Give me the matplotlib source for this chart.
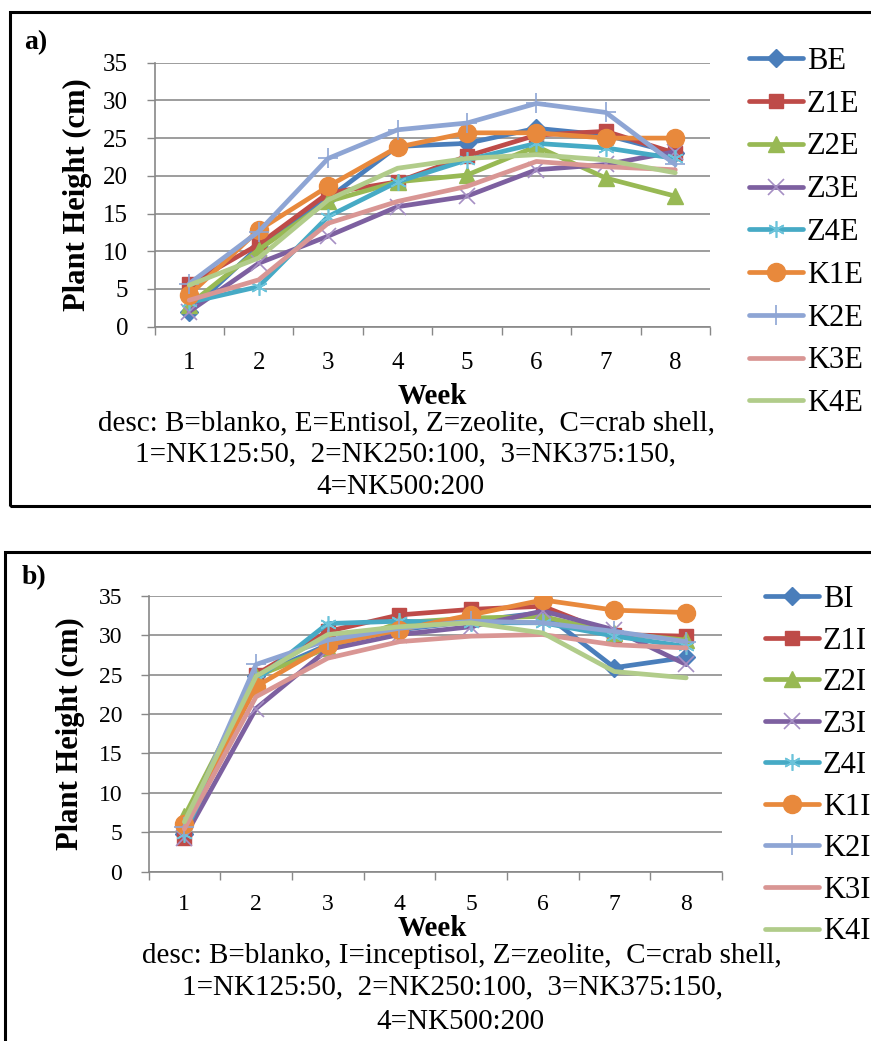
import matplotlib
matplotlib.use("Agg")
import matplotlib.pyplot as plt
from matplotlib.patches import Rectangle

plt.rcParams['font.family'] = ['Liberation Serif', 'DejaVu Serif']

weeks = [1, 2, 3, 4, 5, 6, 7, 8]
week_labels = ['1', '2', '3', '4', '5', '6', '7', '8']

# Panel a (Entisol)
names_a = ['BE', 'Z1E', 'Z2E', 'Z3E', 'Z4E', 'K1E', 'K2E', 'K3E', 'K4E']
BE = [2.0, 10.6, 17.0, 23.9, 24.3, 26.3, 25.4, 23.0]
Z1E = [5.6, 10.9, 17.7, 19.2, 22.6, 25.4, 25.9, 23.0]
Z2E = [2.9, 10.2, 16.6, 19.2, 20.1, 23.9, 19.7, 17.3]
Z3E = [2.0, 8.4, 12.0, 15.9, 17.3, 20.8, 21.5, 23.2]
Z4E = [3.2, 5.3, 14.6, 19.2, 22.1, 24.3, 23.7, 22.3]
K1E = [4.2, 12.8, 18.6, 23.8, 25.7, 25.7, 25.0, 25.0]
K2E = [5.7, 12.6, 22.3, 26.1, 27.0, 29.6, 28.4, 21.5]
K3E = [3.5, 6.2, 13.7, 16.6, 18.6, 21.9, 21.2, 20.8]
K4E = [5.5, 9.1, 16.8, 21.0, 22.3, 22.8, 22.1, 20.4]
series_a = [BE, Z1E, Z2E, Z3E, Z4E, K1E, K2E, K3E, K4E]

# Panel b (Inceptisol)
names_b = ['BI', 'Z1I', 'Z2I', 'Z3I', 'Z4I', 'K1I', 'K2I', 'K3I', 'K4I']
BI = [4.8, 24.8, 28.8, 30.7, 31.8, 32.9, 25.9, 27.2]
Z1I = [4.3, 25.0, 30.5, 32.6, 33.3, 33.7, 30.1, 29.9]
Z2I = [7.0, 24.8, 28.4, 31.6, 32.2, 32.4, 30.3, 29.4]
Z3I = [4.3, 20.7, 28.2, 30.1, 31.1, 33.1, 30.7, 26.3]
Z4I = [4.8, 24.3, 31.5, 31.8, 31.6, 31.6, 29.9, 28.6]
K1I = [6.0, 23.5, 28.8, 30.7, 32.6, 34.5, 33.2, 32.9]
K2I = [5.6, 26.3, 29.4, 30.9, 31.8, 31.6, 30.5, 29.2]
K3I = [5.4, 22.2, 27.1, 29.2, 29.9, 30.1, 28.8, 28.4]
K4I = [6.3, 24.8, 30.1, 31.1, 31.6, 30.3, 25.4, 24.6]
series_b = [BI, Z1I, Z2I, Z3I, Z4I, K1I, K2I, K3I, K4I]

colors = ['#4A7EBB', '#BE4B48', '#98B954', '#7D60A0', '#46AAC5',
          '#E8893C', '#8EA5D4', '#D99694', '#B1CC8A']
marker_edge = ['#4A7EBB', '#BE4B48', '#98B954', '#A58FC4', '#6CC3DA',
               '#E8893C', '#8EA5D4', '#D99694', '#B1CC8A']
markers = ['D', 's', '^', 'x', (6, 2, 0), 'o', '+', None, None]
msizes = [9, 10, 11, 11, 12, 13, 15, 0, 0]
mews = [1, 1, 1, 1.2, 1.2, 1, 1.2, 0, 0]

W, H = 871, 1041
fig = plt.figure(figsize=(W / 100, H / 100), dpi=100)


def fx(px):
    return px / W


def fy(py):
    return 1 - py / H


# panel boxes
fig.patches.append(Rectangle((fx(10), fy(506)), fx(880 - 10), (506 - 12.5) / H,
                             transform=fig.transFigure, fill=False,
                             edgecolor='black', linewidth=2.2, clip_on=False))
fig.patches.append(Rectangle((fx(4.5), fy(1060)), fx(880 - 4.5), (1060 - 552) / H,
                             transform=fig.transFigure, fill=False,
                             edgecolor='black', linewidth=2.2, clip_on=False))


def make_panel(left, right, top, bottom, names, series, letter, letter_xy,
               desc_lines, week_y, desc_ys, desc_xs, leg_x, leg_y, leg_sp,
               ylab_pad, tick_fs, xpad):
    ax = fig.add_axes([fx(left), fy(bottom), fx(right - left), (bottom - top) / H])
    for i, (nm, vals) in enumerate(zip(names, series)):
        ax.plot(weeks, vals, color=colors[i], linewidth=3.4,
                marker=markers[i] if markers[i] is not None else None,
                markersize=msizes[i], markerfacecolor=colors[i],
                markeredgecolor=marker_edge[i], markeredgewidth=mews[i],
                label=nm, solid_capstyle='round', solid_joinstyle='round')
    ax.set_xlim(0.5, 8.5)
    ax.set_ylim(0, 35)
    ax.set_yticks(range(0, 36, 5))
    ax.set_xticks([x + 0.5 for x in range(0, 9)])
    ax.set_xticklabels([])
    ax.set_xticks(weeks, minor=True)
    ax.set_xticklabels(week_labels, minor=True)
    ax.tick_params(axis='x', which='minor', length=0, pad=xpad, labelsize=tick_fs)
    ax.tick_params(axis='x', which='major', direction='out', length=6, width=1, color='#888888')
    ax.tick_params(axis='y', direction='out', length=6, width=1, color='#888888',
                   pad=13, labelsize=tick_fs)
    ax.yaxis.grid(True, color='#8C8C8C', linewidth=1.2)
    ax.set_axisbelow(True)
    for s in ['top', 'right']:
        ax.spines[s].set_visible(False)
    for s in ['left', 'bottom']:
        ax.spines[s].set_color('#888888')
        ax.spines[s].set_linewidth(1.2)
    ax.set_ylabel('Plant Height (cm)', fontsize=22, fontweight='bold', labelpad=ylab_pad)
    ax.legend(loc='upper left', bbox_to_anchor=(fx(leg_x), fy(leg_y)),
              bbox_transform=fig.transFigure, frameon=False, fontsize=22,
              handlelength=1.76, handletextpad=0.13, labelspacing=leg_sp,
              borderpad=0, borderaxespad=0)
    fig.text(fx(letter_xy[0]), fy(letter_xy[1]), letter, fontsize=20,
             fontweight='bold', ha='left', va='center')
    fig.text(fx(432), fy(week_y), 'Week', fontsize=21, fontweight='bold',
             ha='center', va='center')
    for line, yy, xx in zip(desc_lines, desc_ys, desc_xs):
        fig.text(fx(xx), fy(yy), line, fontsize=21, ha='center', va='center')
    return ax


desc_a = ['desc: B=blanko, E=Entisol, Z=zeolite,  C=crab shell,',
          '1=NK125:50,  2=NK250:100,  3=NK375:150,',
          '4=NK500:200']
desc_b = ['desc: B=blanko, I=inceptisol, Z=zeolite,  C=crab shell,',
          '1=NK125:50,  2=NK250:100,  3=NK375:150,',
          '4=NK500:200']

make_panel(154.5, 710, 62.7, 326.6, names_a, series_a, 'a)', (24, 43),
           desc_a, 397, [423, 454, 487], [406, 405, 400], 749, 47, 0.45, 8, 18, 18)
make_panel(148.5, 722, 596, 871.5, names_b, series_b, 'b)', (22, 578),
           desc_b, 928, [956, 987, 1022], [462, 452, 460], 765, 585, 0.41, 10, 17, 16)

fig.savefig('out.png', dpi=100)
